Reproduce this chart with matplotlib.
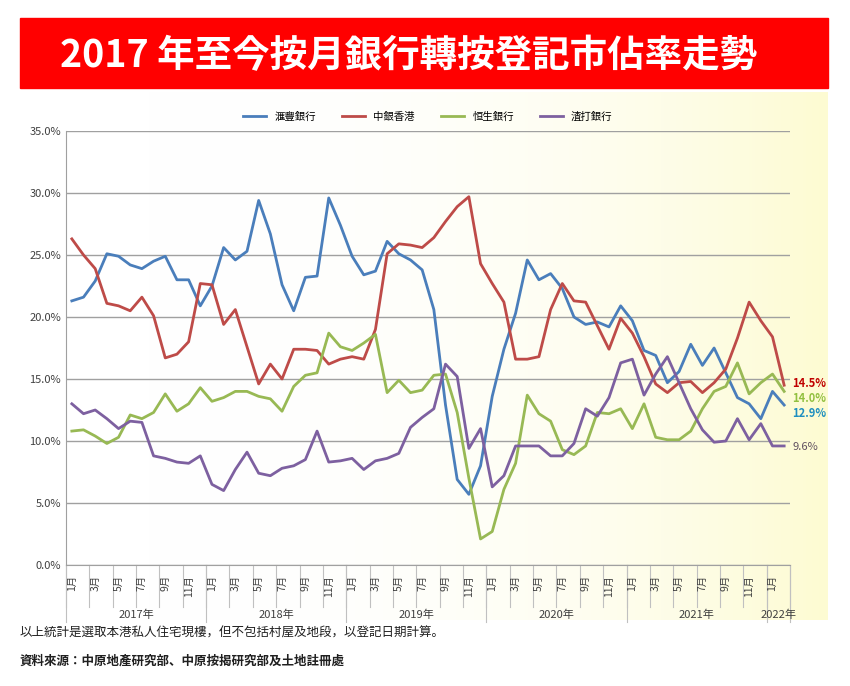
import matplotlib
matplotlib.use("Agg")
import matplotlib.pyplot as plt
from matplotlib import font_manager as fm
import numpy as np
from matplotlib.patches import Rectangle

names = {f.name for f in fm.fontManager.ttflist}
cjk = [n for n in ["Noto Sans CJK TC", "Noto Sans CJK JP", "Noto Sans CJK SC", "Noto Sans CJK KR"] if n in names]
if not cjk:
    cjk = sorted(n for n in names if "CJK" in n)
plt.rcParams["font.family"] = cjk[:1] + ["DejaVu Sans"]

series_names = ["滙豐銀行", "中銀香港", "恒生銀行", "渣打銀行"]
colors = ["#4a7ebb", "#be4b48", "#98b954", "#7d60a0"]
hsbc = [21.3,21.6,22.9,25.1,24.9,24.2,23.9,24.5,24.9,23.0,23.0,20.9,
        22.5,25.6,24.6,25.3,29.4,26.7,22.6,20.5,23.2,23.3,29.6,27.4,
        24.9,23.4,23.7,26.1,25.1,24.6,23.8,20.6,12.9,6.9,5.7,8.0,
        13.6,17.4,20.3,24.6,23.0,23.5,22.3,20.0,19.4,19.6,19.2,20.9,
        19.7,17.3,16.9,14.7,15.6,17.8,16.1,17.5,15.5,13.5,13.0,11.8,
        14.0,12.9]
boc = [26.3,25.0,23.9,21.1,20.9,20.5,21.6,20.1,16.7,17.0,18.0,22.7,
       22.6,19.4,20.6,17.6,14.6,16.2,15.0,17.4,17.4,17.3,16.2,16.6,
       16.8,16.6,19.0,25.1,25.9,25.8,25.6,26.4,27.7,28.9,29.7,24.3,
       22.7,21.2,16.6,16.6,16.8,20.6,22.7,21.3,21.2,19.3,17.4,19.9,
       18.7,16.8,14.6,13.9,14.7,14.8,13.9,14.7,15.8,18.3,21.2,19.7,
       18.4,14.5]
hangseng = [10.8,10.9,10.4,9.8,10.3,12.1,11.8,12.3,13.8,12.4,13.0,14.3,
            13.2,13.5,14.0,14.0,13.6,13.4,12.4,14.4,15.3,15.5,18.7,17.6,
            17.3,17.9,18.6,13.9,14.9,13.9,14.1,15.3,15.4,12.3,7.0,2.1,
            2.7,6.1,8.2,13.7,12.2,11.6,9.3,8.9,9.6,12.3,12.2,12.6,
            11.0,13.0,10.3,10.1,10.1,10.8,12.6,14.0,14.4,16.3,13.8,14.7,
            15.4,14.0]
sc = [13.0,12.2,12.5,11.8,11.0,11.6,11.5,8.8,8.6,8.3,8.2,8.8,
      6.5,6.0,7.7,9.1,7.4,7.2,7.8,8.0,8.5,10.8,8.3,8.4,
      8.6,7.7,8.4,8.6,9.0,11.1,11.9,12.6,16.2,15.2,9.4,11.0,
      6.3,7.2,9.6,9.6,9.6,8.8,8.8,9.8,12.6,12.0,13.5,16.3,
      16.6,13.7,15.4,16.8,14.7,12.6,10.9,9.9,10.0,11.8,10.1,11.4,
      9.6,9.6]
years = ["2017年", "2018年", "2019年", "2020年", "2021年", "2022年"]
month_labels = ["1月", "3月", "5月", "7月", "9月", "11月"]
end_labels = ["12.9%", "14.5%", "14.0%", "9.6%"]
data = [hsbc, boc, hangseng, sc]

fig = plt.figure(figsize=(8.5, 6.86), dpi=100)
W, H = 850, 686
bg = fig.add_axes([20/W, 1-620/H, 808/W, 528/H])
grad = np.linspace(0, 1, 256)[None, :] ** 3
cmap = matplotlib.colors.LinearSegmentedColormap.from_list("g", ["#ffffff", "#fdfbd2"])
bg.imshow(grad, aspect="auto", cmap=cmap, extent=[0, 1, 0, 1])
bg.axis("off")
fig.patches.append(Rectangle((20/W, 1-88/H), 808/W, 70/H, transform=fig.transFigure,
                             color="#ff0000", zorder=0))
fig.text(60/W, 1-56/H, "2017 年至今按月銀行轉按登記市佔率走勢", color="white",
         fontsize=27, fontweight="bold", ha="left", va="center")

ax = fig.add_axes([66/W, 1-565/H, 724/W, 434/H])
ax.patch.set_alpha(0)
n = len(hsbc)
x = np.arange(n)
for d, c, name in zip(data, colors, series_names):
    ax.plot(x, d, color=c, lw=2, label=name)
ax.set_xlim(-0.5, n - 0.5)
ax.set_ylim(0, 35)
ax.set_yticks(np.arange(0, 36, 5))
ax.set_yticklabels([f"{v:.1f}%" for v in np.arange(0, 36, 5)], fontsize=8, color="#404040")
ax.yaxis.grid(True, color="#a0a0a0", lw=1)
ax.set_axisbelow(True)
for s in ["top", "right"]:
    ax.spines[s].set_visible(False)
ax.spines["left"].set_color("#a0a0a0")
ax.spines["bottom"].set_color("#a0a0a0")
ax.tick_params(axis="y", length=0)
ax.set_xticks([])
for i in range(n):
    if i % 2 == 0:
        ax.text(i, -0.8, month_labels[(i % 12) // 2], rotation=90, fontsize=7.5,
                ha="center", va="top", color="#404040")
for i in range(0, n + 1, 2):
    ax.plot([i - 0.5, i - 0.5], [0, -3.4], color="#c0c0c0", lw=0.8, clip_on=False)
for k, yr in enumerate(years):
    start = k * 12
    end = min(start + 12, n)
    ax.plot([start - 0.5, start - 0.5], [0, -4.6], color="#c0c0c0", lw=0.8, clip_on=False)
    cx = (start + end - 1) / 2
    if k == 5:
        cx = start + 0.5
    ax.text(cx, -4.0, yr, fontsize=8, ha="center", va="center", color="#404040")
ax.plot([n - 0.5, n - 0.5], [0, -4.6], color="#c0c0c0", lw=0.8, clip_on=False)

ypos = [12.2, 14.6, 13.4, 9.5]
lab_cols = ["#1f8fc0", "#c00000", "#92c040", "#605060"]
for lab, col, yp, w in zip(end_labels, lab_cols, ypos, ["bold", "bold", "bold", "normal"]):
    ax.text(n - 0.5 + 0.2, yp, lab, color=col, fontsize=8, fontweight=w,
            va="center", ha="left", clip_on=False)

ax.legend(loc="lower center", bbox_to_anchor=(0.5, 1.0), ncol=4, frameon=False,
          fontsize=7.5, handlelength=2.2, columnspacing=2.5)

fig.text(20/W, 1-633/H, "以上統計是選取本港私人住宅現樓，但不包括村屋及地段，以登記日期計算。",
         fontsize=9, va="center", color="#202020")
fig.text(20/W, 1-661/H, "資料來源：中原地產研究部、中原按揭研究部及土地註冊處",
         fontsize=9, va="center", fontweight="bold", color="#202020")
fig.savefig("out.png", dpi=100)
